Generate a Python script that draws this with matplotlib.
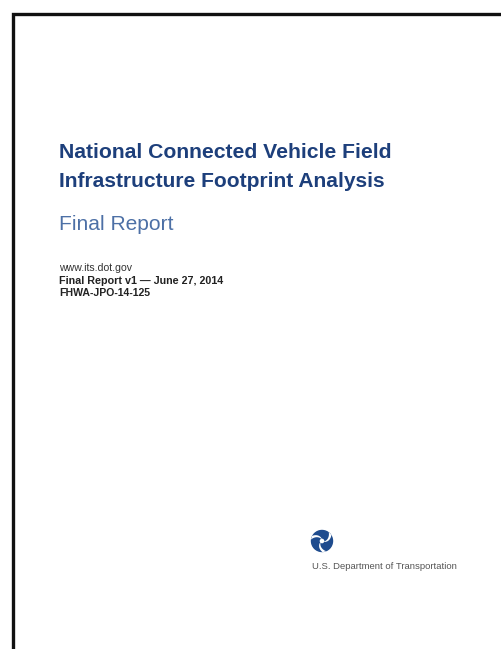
import matplotlib
matplotlib.use("Agg")
import matplotlib.pyplot as plt
from matplotlib.patches import Circle, PathPatch
from matplotlib.path import Path
import numpy as np

# page texts
title_lines = ["National Connected Vehicle Field", "Infrastructure Footprint Analysis"]
subtitle = "Final Report"
info_lines = ["www.its.dot.gov", "Final Report v1 \u2014 June 27, 2014", "FHWA-JPO-14-125"]
agency = "U.S. Department of Transportation"

navy = "#1d3f7b"
steel = "#4d70a6"

W, H = 501, 649
fig = plt.figure(figsize=(W / 100, H / 100), dpi=100)
ax = fig.add_axes([0, 0, 1, 1])
ax.set_xlim(0, W)
ax.set_ylim(H, 0)
ax.axis("off")

# page border (only top and left visible, page is cropped)
ax.plot([13.5, 13.5, W + 5], [H + 5, 13.5, 13.5], color="#111111", lw=2.4,
        solid_joinstyle="miter")

fam = "Liberation Sans"
renderer = fig.canvas.get_renderer()


def put(x, y, s, width, **kw):
    # scale the font so that the string spans the wanted width in pixels
    t = ax.text(x, y, s, family=fam, va="baseline", ha="left", fontsize=10, **kw)
    bb = t.get_window_extent(renderer)
    t.set_fontsize(10 * width / bb.width)
    return t


put(59, 158, title_lines[0], 333, weight="bold", color=navy)
put(59, 187, title_lines[1], 327, weight="bold", color=navy)
put(59, 230, subtitle, 115, color=steel)

put(59, 271, info_lines[0], 73, color="#333333")
put(59, 284, info_lines[1], 165, weight="bold", color="#222222")
put(59, 296, info_lines[2], 91, weight="bold", color="#222222")

# DOT logo: blue disc with a white three-blade swirl
cx, cy, r = 322, 541, 10.5
ax.add_patch(Circle((cx, cy), r, color="#1e4b8e", zorder=3))
for k in range(3):
    a0 = np.deg2rad(90 + 120 * k)
    pts = []
    # blade: curve from near centre out to the rim, bending sideways
    for t in np.linspace(0, 1, 20):
        rr = 1.0 + t * (r - 0.3)
        ang = a0 + 1.1 * t
        pts.append((cx + rr * np.cos(ang), cy - rr * np.sin(ang)))
    for t in np.linspace(1, 0, 20):
        rr = 1.0 + t * (r - 0.3)
        ang = a0 + 1.1 * t ** 0.6 + 0.35 * t
        pts.append((cx + rr * np.cos(ang), cy - rr * np.sin(ang)))
    ax.add_patch(PathPatch(Path(pts), facecolor="white", edgecolor="none", zorder=4))
ax.add_patch(Circle((cx, cy), 1.6, color="white", zorder=4))

put(312, 569, agency, 145, color="#555555")

fig.savefig("out.png", dpi=100)
